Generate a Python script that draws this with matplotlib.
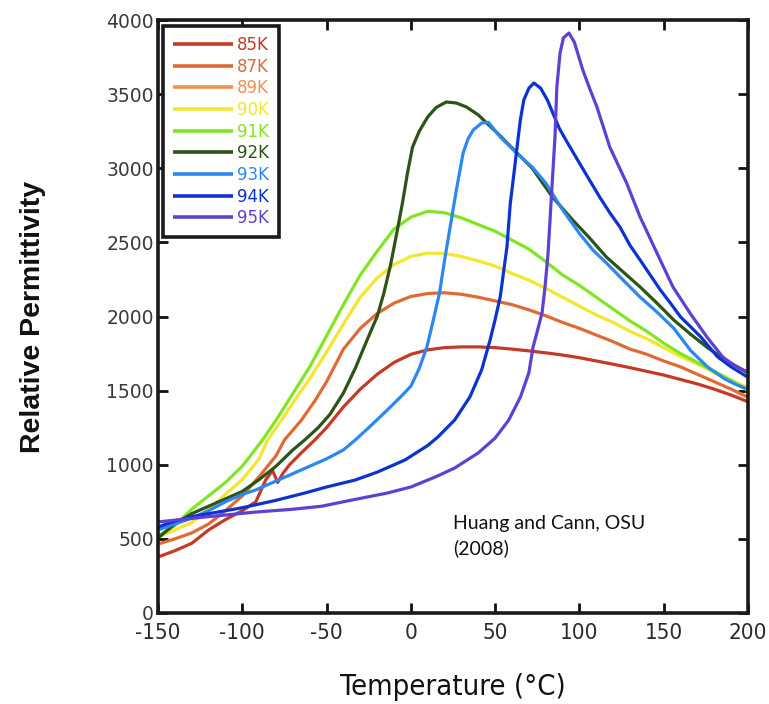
import matplotlib
matplotlib.use("Agg")
import matplotlib.pyplot as plt

# ---------------- data ----------------
labels = ["85K", "87K", "89K", "90K", "91K", "92K", "93K", "94K", "95K"]
colors = ["#c43a25", "#e06a35", "#f09050", "#f2e62e", "#80e622", "#2b5416",
          "#2a88f0", "#0b33d0", "#6040d2"]

t_85 = [-150,-140,-130,-120,-110,-100,-92,-86,-82,-79,-76,-72,-65,-57,-50,-40,-30,-20,-10,0,
        10,20,30,40,50,60,70,80,90,100,110,120,130,140,150,160,170,180,190,200]
v_85 = [378,420,470,560,630,690,750,900,960,880,940,1000,1080,1167,1250,1390,1510,1610,1690,1745,
        1775,1790,1795,1795,1790,1780,1768,1755,1740,1722,1700,1678,1655,1630,1605,1575,1545,1510,1470,1425]

t_87 = [-150,-140,-130,-120,-110,-100,-90,-80,-75,-65,-57,-50,-40,-30,-20,-10,0,10,20,30,40,50,
        60,70,80,90,100,110,120,130,140,150,160,170,180,190,200]
v_87 = [465,500,540,600,690,790,920,1060,1167,1300,1430,1560,1780,1920,2020,2090,2135,2155,2160,2150,2130,2105,
        2080,2045,2005,1960,1920,1875,1830,1780,1745,1700,1660,1610,1560,1510,1455]

t_89 = []
v_89 = []

t_90 = [-150,-140,-130,-120,-110,-100,-90,-85,-75,-66,-60,-50,-40,-30,-20,-10,0,10,20,30,40,50,
        60,70,80,90,100,110,120,130,140,150,160,170,180,190,200]
v_90 = [513,560,610,700,800,900,1040,1167,1330,1484,1580,1760,1950,2130,2260,2350,2405,2428,2425,2405,2375,2340,
        2290,2245,2190,2130,2070,2010,1960,1900,1850,1790,1730,1680,1620,1570,1520]

t_91 = [-150,-140,-130,-120,-110,-100,-88,-80,-70,-60,-50,-40,-30,-20,-10,0,10,20,30,40,50,
        60,70,80,90,100,110,120,130,140,150,160,170,180,190,200]
v_91 = [520,590,700,790,880,990,1167,1300,1480,1660,1870,2080,2280,2440,2590,2670,2710,2700,2665,2620,2575,
        2515,2455,2370,2280,2210,2130,2050,1970,1900,1820,1750,1690,1630,1570,1500]

t_92 = [-150,-140,-130,-120,-110,-100,-90,-80,-70,-63,-55,-48,-40,-33,-26,-20,-16,-12,-8,-5,-2,1,5,10,15,
        21,27,33,40,45,52,63,72,84,96,106,116,126,136,146,156,166,176,186,200]
v_92 = [506,600,670,720,770,820,900,990,1100,1167,1250,1340,1484,1650,1841,2000,2158,2350,2583,2765,2968,3143,3250,3346,3410,
        3447,3440,3413,3360,3305,3230,3103,3000,2806,2651,2530,2401,2300,2199,2090,1976,1880,1790,1710,1620]

t_93 = [-150,-140,-130,-120,-110,-100,-92,-80,-70,-60,-50,-40,-33,-25,-14,-5,0,5,9.5,13,17,20,23,27,31,34,37,
        42,46,53,62,72,80,90,100,108,116,126,136,146,156,166,176,186,193,200]
v_93 = [560,600,640,690,750,800,830,890,940,990,1040,1100,1167,1250,1369,1470,1530,1650,1794,1960,2158,2380,2583,2853,3103,3200,3258,
        3305,3310,3211,3110,3008,2900,2720,2560,2448,2361,2245,2131,2030,1920,1770,1660,1580,1540,1510]

t_94 = [-150,-140,-130,-120,-110,-100,-92,-80,-63,-50,-33,-20,-3.5,10,16,26,35,42,47,50,53,55,57,59,61,63,65,67,
        70,73,77,81,88,93,100,106,112,118,124,130,136,142,148,154,160,166,172,182,190,200]
v_94 = [580,620,650,670,690,710,730,760,809,850,897,950,1032,1130,1187,1302,1457,1640,1841,1980,2131,2300,2469,2765,2950,3143,3330,3460,
        3540,3575,3540,3460,3270,3170,3035,2920,2806,2700,2604,2480,2381,2280,2179,2090,1997,1930,1862,1727,1660,1590]

t_95 = [-150,-120,-92,-70,-53,-35,-14,0,15,26,40,50,58,65,70,72.5,75,77.8,79.6,81.4,83.7,85.5,86.6,88.5,90.5,
        93.8,97,102,106,110.4,118,128,136,146,155.5,165.6,175.6,185,193,200]
v_95 = [614,650,681,700,720,762,809,850,920,978,1080,1180,1300,1457,1620,1794,1900,2023,2199,2428,2873,3211,3548,3777,3880,
        3912,3850,3663,3540,3413,3143,2900,2671,2428,2199,2023,1862,1727,1660,1625]

series_t = [t_85, t_87, t_89, t_90, t_91, t_92, t_93, t_94, t_95]
series_v = [v_85, v_87, v_89, v_90, v_91, v_92, v_93, v_94, v_95]

x_ticks = [-150, -100, -50, 0, 50, 100, 150, 200]
x_ticklabels = ["-150", "-100", "-50", "0", "50", "100", "150", "200"]
y_ticks = [0, 500, 1000, 1500, 2000, 2500, 3000, 3500, 4000]
y_ticklabels = ["0", "500", "1000", "1500", "2000", "2500", "3000", "3500", "4000"]

# ---------------- figure ----------------
W, H = 769, 704
fig = plt.figure(figsize=(W / 100, H / 100), dpi=100)
ax = fig.add_axes([158 / W, 1 - 613 / H, 590 / W, 593 / H])

for t, v, c, lab in zip(series_t, series_v, colors, labels):
    ax.plot(t, v, color=c, lw=2.3, label=lab, solid_capstyle="butt")

ax.set_xlim(-150, 200)
ax.set_ylim(0, 4000)
ax.set_xticks(x_ticks)
ax.set_xticklabels(x_ticklabels, family="DejaVu Sans", stretch="condensed",
                   fontsize=16, color="#2a2a2a")
ax.set_yticks(y_ticks)
ax.set_yticklabels(y_ticklabels, family="DejaVu Sans", fontsize=13.5, color="#3a3a3a")
ax.tick_params(direction="in", length=7, width=2, top=True, right=True, color="#111111")
ax.tick_params(axis="x", pad=7)
ax.tick_params(axis="y", pad=3)
for s in ax.spines.values():
    s.set_linewidth(2.6)
    s.set_color("#1a1a1a")

ax.set_ylabel("Relative Permittivity", family="Liberation Sans", fontsize=20.5,
              fontweight="bold", color="#111111")
ax.yaxis.set_label_coords(-0.19, 0.5)
ax.set_xlabel("Temperature (\u00b0C)", family="DejaVu Sans", stretch="condensed",
              fontsize=21, color="#111111")
ax.xaxis.set_label_coords(0.5, -0.102)

ax.text(0.50, 0.13, "Huang and Cann, OSU\n(2008)", transform=ax.transAxes,
        family="Lato", fontsize=14, color="#111111", ha="left", va="center",
        linespacing=1.5)

leg = ax.legend(loc="upper left", bbox_to_anchor=(0.008, 0.99), borderaxespad=0,
                prop={"family": "DejaVu Sans", "size": 12}, handlelength=3.6,
                handletextpad=0.25, labelspacing=0.22, borderpad=0.6,
                fancybox=False, framealpha=1, labelcolor="linecolor")
leg.get_frame().set_edgecolor("#1a1a1a")
leg.get_frame().set_linewidth(2.6)
for ln in leg.get_lines():
    ln.set_linewidth(2.6)

fig.savefig("out.png", dpi=100)
